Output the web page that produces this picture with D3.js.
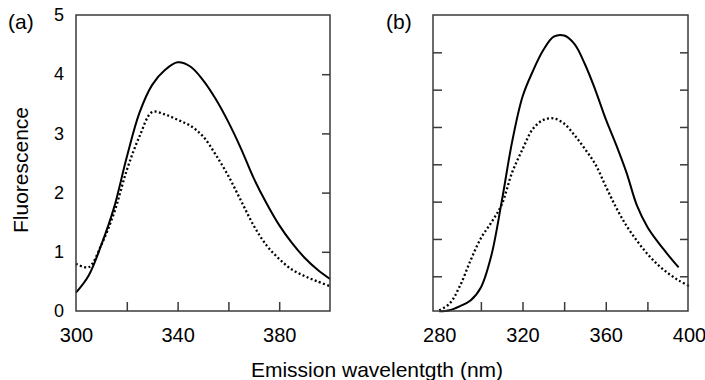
<!DOCTYPE html>
<html>
<head>
<meta charset="utf-8">
<script src="https://cdn.jsdelivr.net/npm/d3@7"></script>
<style>
  html, body { margin: 0; padding: 0; background: #fff; }
  svg { display: block; font-family: "Liberation Sans", Arial, Helvetica, sans-serif; }
</style>
</head>
<body>
<svg id="chart" width="705" height="380"></svg>
<script>
// Panel (a): emission spectra, 300–400 nm
const wavelengthsA = [300, 305, 310, 315, 320, 325, 330, 335, 340, 345, 350,
                      355, 360, 365, 370, 375, 380, 385, 390, 395, 400];
const solidA  = [0.31, 0.60, 1.12, 1.75, 2.60, 3.35, 3.82, 4.07, 4.20, 4.13, 3.90,
                 3.58, 3.19, 2.74, 2.24, 1.82, 1.45, 1.15, 0.90, 0.70, 0.54];
const dottedA = [0.80, 0.74, 1.12, 1.66, 2.38, 2.95, 3.36, 3.32, 3.23, 3.13, 2.95,
                 2.64, 2.28, 1.86, 1.44, 1.11, 0.88, 0.70, 0.59, 0.50, 0.42];

// Panel (b): emission spectra, 280–400 nm
const wavelengthsB = [280, 285, 290, 295, 300, 305, 310, 315, 320, 325, 330, 335, 340,
                      345, 350, 355, 360, 365, 370, 375, 380, 385, 390, 395, 400];
const solidB  = [0.06, 0.09, 0.20, 0.35, 0.70, 1.55, 3.00, 4.60, 5.81, 6.50, 7.06, 7.42, 7.45,
                 7.22, 6.68, 5.99, 5.21, 4.52, 3.77, 2.89, 2.32, 1.92, 1.57, 1.24, null];
const dottedB = [0.09, 0.27, 0.75, 1.42, 2.02, 2.44, 2.92, 3.78, 4.40, 4.95, 5.19, 5.23, 5.09,
                 4.78, 4.41, 4.00, 3.41, 2.84, 2.35, 1.95, 1.60, 1.31, 1.08, 0.89, 0.74];

// Tick values
const xLabelsA = [300, 340, 380];
const xMinorA  = [320, 340, 360, 380];
const yLabelsA = [0, 1, 2, 3, 4, 5];
const yMinorA  = [1, 2, 3, 4];
const xLabelsB = [280, 320, 360, 400];
const xMinorB  = [300, 320, 340, 360, 380];
const yMinorB  = [1, 2, 3, 4, 5, 6, 7];

const svg = d3.select("#chart");
const frameColor = "#3a3a3a";
const plotTop = 15, plotBottom = 311;

function drawPanel(cfg) {
  const x = d3.scaleLinear().domain(cfg.xDomain).range([cfg.left, cfg.right]);
  const y = d3.scaleLinear().domain(cfg.yDomain).range([plotBottom, plotTop]);
  const g = svg.append("g");

  // inward tick marks along the bottom edge
  g.append("g").attr("transform", `translate(0,${plotBottom})`)
    .call(d3.axisBottom(x).tickValues(cfg.xMinor).tickFormat("").tickSizeInner(-9).tickSizeOuter(0))
    .call(a => a.select(".domain").remove())
    .call(a => a.selectAll("line").attr("stroke", frameColor).attr("stroke-width", 1.5));

  // x tick labels
  g.append("g").attr("transform", `translate(0,${plotBottom})`)
    .call(d3.axisBottom(x).tickValues(cfg.xLabels).tickFormat(d3.format("d")).tickSize(0).tickPadding(17))
    .call(a => a.select(".domain").remove())
    .call(a => a.selectAll("text").attr("font-size", 20).attr("fill", "#000")
                 .attr("font-family", "Liberation Sans, Arial, sans-serif"));

  // right-side inward ticks
  g.append("g").attr("transform", `translate(${cfg.right},0)`)
    .call(d3.axisRight(y).tickValues(cfg.yMinor).tickFormat("").tickSizeInner(-8).tickSizeOuter(0))
    .call(a => a.select(".domain").remove())
    .call(a => a.selectAll("line").attr("stroke", frameColor).attr("stroke-width", 1.5));

  if (cfg.leftTicks) {
    g.append("g").attr("transform", `translate(${cfg.left},0)`)
      .call(d3.axisLeft(y).tickValues(cfg.yMinor).tickFormat("").tickSizeInner(-9).tickSizeOuter(0))
      .call(a => a.select(".domain").remove())
      .call(a => a.selectAll("line").attr("stroke", frameColor).attr("stroke-width", 1.5));
  }

  if (cfg.yLabels) {
    g.append("g").attr("transform", `translate(${cfg.left},0)`)
      .call(d3.axisLeft(y).tickValues(cfg.yLabels).tickFormat(d3.format("d")).tickSize(0).tickPadding(12))
      .call(a => a.select(".domain").remove())
      .call(a => a.selectAll("text").attr("font-size", 18).attr("fill", "#000")
                   .attr("font-family", "Liberation Sans, Arial, sans-serif"));
  }

  // spectra
  const line = (vals) => d3.line()
    .defined((d, i) => vals[i] != null)
    .x((d) => x(d))
    .y((d, i) => y(vals[i]))
    .curve(d3.curveCatmullRom.alpha(0.5));

  g.append("path")
    .attr("d", line(cfg.solid)(cfg.wl))
    .attr("fill", "none").attr("stroke", "#000").attr("stroke-width", 2);

  g.append("path")
    .attr("d", line(cfg.dotted)(cfg.wl))
    .attr("fill", "none").attr("stroke", "#000").attr("stroke-width", 2.3)
    .attr("stroke-dasharray", "2,2.4");

  // frame
  g.append("rect")
    .attr("x", cfg.left).attr("y", plotTop)
    .attr("width", cfg.right - cfg.left).attr("height", plotBottom - plotTop)
    .attr("fill", "none").attr("stroke", frameColor).attr("stroke-width", 1.5);

  // panel tag
  svg.append("text")
    .attr("x", cfg.tagX).attr("y", 29)
    .attr("font-size", 21).attr("fill", "#000")
    .text(cfg.tag);
}

drawPanel({
  left: 76, right: 330, xDomain: [300, 400], yDomain: [0, 5],
  wl: wavelengthsA, solid: solidA, dotted: dottedA,
  xLabels: xLabelsA, xMinor: xMinorA, yLabels: yLabelsA, yMinor: yMinorA,
  leftTicks: false, tag: "(a)", tagX: 8
});

drawPanel({
  left: 433, right: 688, xDomain: [277, 399.5], yDomain: [0.07, 8],
  wl: wavelengthsB, solid: solidB, dotted: dottedB,
  xLabels: xLabelsB, xMinor: xMinorB, yLabels: null, yMinor: yMinorB,
  leftTicks: true, tag: "(b)", tagX: 386
});

// axis titles
svg.append("text")
  .attr("transform", "translate(28,170) rotate(-90)")
  .attr("text-anchor", "middle")
  .attr("font-size", 21).attr("fill", "#000")
  .text("Fluorescence");

svg.append("text")
  .attr("x", 377).attr("y", 377)
  .attr("text-anchor", "middle")
  .attr("font-size", 21).attr("fill", "#000")
  .text("Emission wavelentgth (nm)");
</script>
</body>
</html>
